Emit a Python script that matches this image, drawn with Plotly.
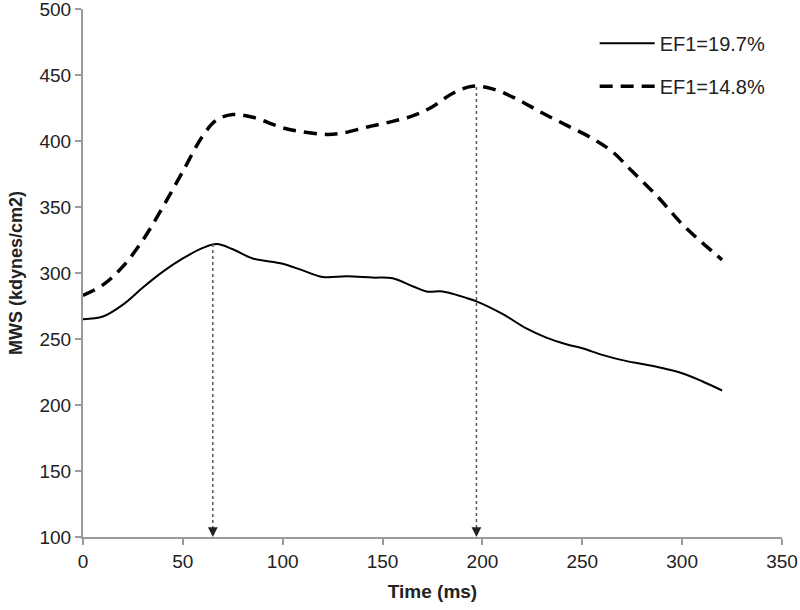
import plotly.graph_objects as go

# time (ms) and MWS (kdynes/cm2)
t_a = [0, 10, 20, 30, 40, 50, 60, 67, 75, 85, 100, 110, 120, 132, 145, 155, 165, 172, 180,
       188, 197, 210, 222, 232, 242, 250, 260, 270, 280, 290, 300, 310, 320]
mws_a = [265, 267, 276, 289, 301, 311, 319, 322, 318, 311, 307, 302, 297, 297.5, 296.5, 296, 290, 286, 286,
         283, 278.5, 269, 258, 251, 246, 243, 238, 234, 231, 228, 224, 218, 211]

t_b = [0, 10, 20, 30, 40, 50, 60, 67, 75, 85, 100, 110, 122, 130, 142, 154, 165, 175, 185,
       195, 205, 217, 229, 242, 255, 265, 275, 287, 300, 310, 320]
mws_b = [283, 291, 305, 325, 350, 377, 404, 416, 420, 418, 410, 407, 405, 406, 410.5, 414.5, 419, 426, 436,
         441.5, 439.5, 432, 422, 412, 402, 392, 377, 359, 337, 323, 310]

name_a = "EF1=19.7%"
name_b = "EF1=14.8%"

# peak markers (time, peak value)
peak_t = [65, 197]
peak_v = [322, 441]

font = "Liberation Sans, Arial, sans-serif"
axis_gray = "#9a9a9a"

fig = go.Figure()
fig.add_scatter(x=t_a, y=mws_a, name=name_a, mode="lines", line_shape="spline",
                line=dict(color="black", width=2), legendgroup="a")
fig.add_scatter(x=t_b, y=mws_b, name=name_b, mode="lines", line_shape="spline",
                line=dict(color="black", width=3.5, dash="13px,8px"), legendgroup="b")

for pt, pv in zip(peak_t, peak_v):
    fig.add_scatter(x=[pt, pt], y=[pv, 100], mode="lines", showlegend=False, hoverinfo="skip",
                    line=dict(color="#555555", width=1.5, dash="dot"))
    fig.add_annotation(x=pt, y=100, ax=pt, ay=108, axref="x", ayref="y", xref="x", yref="y",
                       text="", showarrow=True, arrowhead=2, arrowsize=1.3, arrowwidth=1.5,
                       arrowcolor="#222222")

fig.update_layout(
    width=800, height=610,
    margin=dict(l=83, r=18, t=9, b=73),
    plot_bgcolor="white", paper_bgcolor="white",
    font=dict(family=font, size=19, color="#222222"),
    showlegend=True,
    legend=dict(x=0.732, y=0.972, xanchor="left", yanchor="top", bgcolor="rgba(0,0,0,0)",
                tracegroupgap=14, font=dict(size=20), itemwidth=55),
    xaxis=dict(range=[0, 350], dtick=50, showgrid=False, zeroline=False, automargin=False,
               showline=True, linecolor=axis_gray, linewidth=2,
               ticks="outside", tickcolor=axis_gray, ticklen=6, tickwidth=2,
               ticklabeloverflow="allow",
               title=dict(text="<b>Time (ms)</b>", font=dict(size=19), standoff=14)),
    yaxis=dict(range=[100, 500], dtick=50, showgrid=False, zeroline=False, automargin=False,
               showline=True, linecolor=axis_gray, linewidth=2,
               ticks="outside", tickcolor=axis_gray, ticklen=6, tickwidth=2,
               ticklabeloverflow="allow",
               title=dict(text="<b>MWS (kdynes/cm2)</b>", font=dict(size=18), standoff=12)),
)

# drop the default page margin so the figure sits at the window's corner
fig.write_html("out.html", config={"displayModeBar": False},
               post_script="document.body.style.margin='0';")
